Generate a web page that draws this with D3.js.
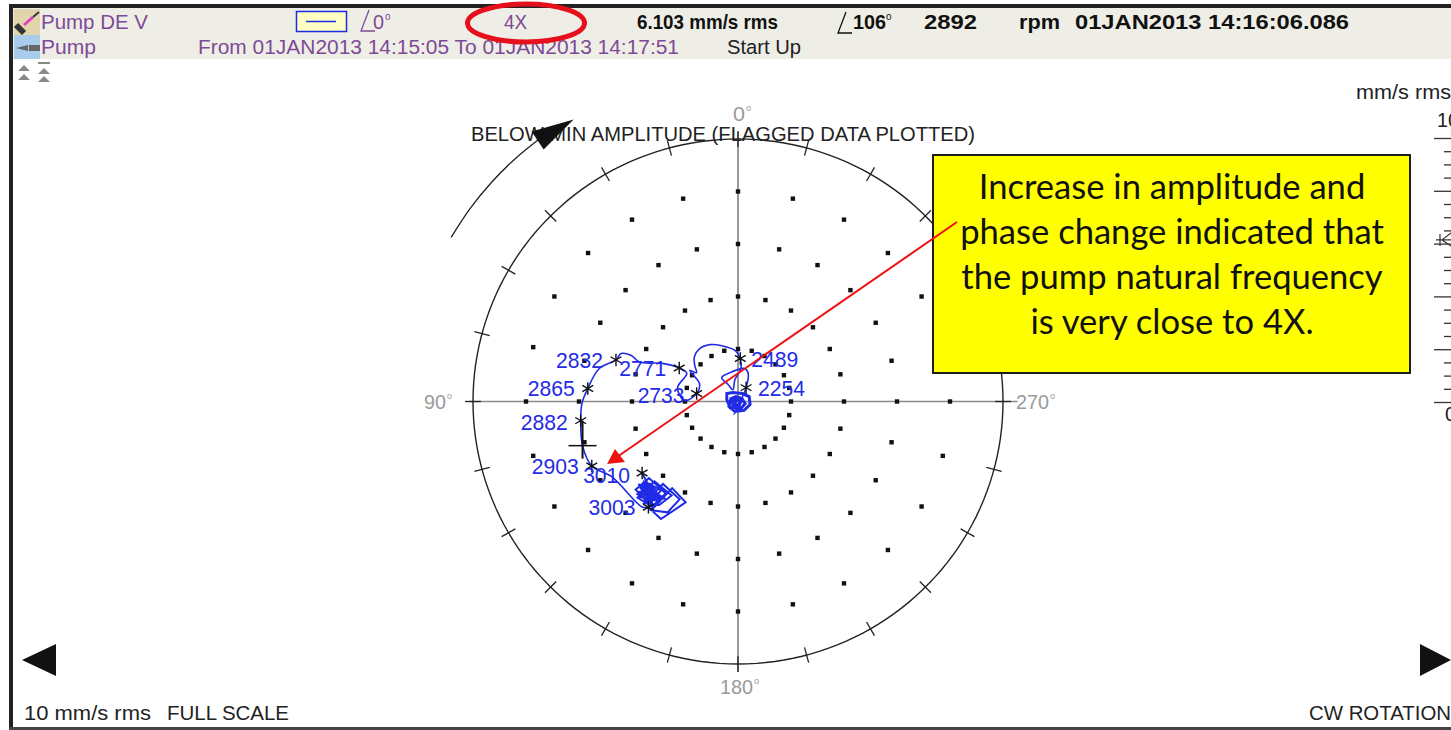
<!DOCTYPE html>
<html>
<head>
<meta charset="utf-8">
<script src="https://cdn.jsdelivr.net/npm/d3@7"></script>
<style>
    html, body { margin: 0; padding: 0; background: #fff; overflow: hidden; }
    svg { display: block; }
    text { font-family: "Liberation Sans", Arial, sans-serif; }
</style>
</head>
<body>
<svg id="chart" width="1451" height="730"></svg>
<script>
// 4X polar (amplitude mm/s rms, phase deg)
const ringAmps = [2, 4, 6, 8];
const gridAngles = d3.range(0, 360, 15);
const axisAngles = [0, 90, 180, 270];
const scaleMajor = [0, 2, 4, 6, 8, 10];
const scaleMinor = d3.range(0, 10.01, 0.5).filter(d => d % 2 !== 0);

// slow roll, small loops near the centre
const blobPhase = [180, 127, 80, 54, 29, 333, 294, 256, 214, 163, 119, 67, 22, 307, 254, 203, 146, 90, 34, 270, 194, 135, 60, 300, 220, 180, 150, 205, 170, 190];
const blobAmp = [0.15, 0.38, 0.43, 0.52, 0.39, 0.34, 0.46, 0.47, 0.41, 0.40, 0.39, 0.29, 0.20, 0.19, 0.28, 0.29, 0.27, 0.23, 0.14, 0.11, 0.16, 0.16, 0.10, 0.12, 0.09, 0.30, 0.22, 0.24, 0.36, 0.12];

// run up through the resonance
const sweepPhase = [190, 330, 340, 348, 20, 34, 30, 23, 8, 355, 357, 3, 16, 26, 36, 44, 50, 55, 57, 65, 79, 89, 77, 61, 60, 63, 68, 66.5, 67.5, 71, 76.6, 85, 90.7, 97, 106, 114, 121, 138, 140];
const sweepAmp = [0.12, 0.61, 1.13, 1.28, 1.13, 1.10, 0.75, 0.49, 0.84, 1.26, 1.64, 1.94, 2.21, 2.41, 2.48, 2.37, 2.13, 1.91, 2.17, 1.60, 1.59, 2.02, 2.34, 2.21, 2.56, 3.20, 4.01, 4.39, 4.77, 4.87, 5.39, 5.69, 5.89, 5.98, 6.103, 6.04, 5.56, 5.41, 5.26];

// running speed, wandering around 3000 rpm
const settlePhase = [140, 147, 152.8, 143, 141.7, 147.8, 149.4, 138, 137.6, 143, 145, 134, 134, 141, 142, 131, 131, 139, 139.5, 132, 134, 140, 143, 135, 134, 139.5, 135, 136.7, 137, 141, 134, 132, 137.6, 133, 138, 131, 136, 140, 133, 135, 130, 137, 142, 134, 131, 136, 139, 132, 135, 138, 133, 136, 127];
const settleAmp = [5.26, 5.34, 4.32, 4.13, 5.28, 4.99, 4.33, 4.23, 5.25, 4.94, 4.37, 4.38, 5.27, 5.16, 4.44, 4.45, 5.12, 5.15, 4.45, 4.63, 5.22, 4.91, 4.62, 4.70, 5.08, 4.75, 4.87, 4.55, 5.14, 4.70, 4.57, 4.82, 4.79, 4.95, 5.02, 4.68, 4.60, 5.05, 5.18, 4.80, 4.90, 4.98, 4.82, 4.52, 4.75, 5.10, 4.66, 4.86, 4.62, 4.94, 5.04, 4.72, 4.53];

// speed stamps along the orbit
const stampRpm = ["2254", "2489", "2733", "2771", "2832", "2865", "2882", "2903", "3003", "3010"];
const stampPhase = [330, 357, 79, 60, 71, 85, 97, 114, 140, 127];
const stampAmp = [0.61, 1.64, 1.59, 2.56, 4.87, 5.69, 5.98, 6.04, 5.26, 4.53];

const cursorAmp = 6.103;
const cursorPhase = 106;
const rotationArc = [60, 54, 48, 42, 37];
const rotationAmp = 12.5;

const note = ["Increase in amplitude and", "phase change indicated that", "the pump natural frequency", "is very close to 4X."];

const purple = "#7d4a98";
const blue = "#1f2be6";
const svg = d3.select("#chart");

// polar plot sits on two linear scales, the picture is not quite round
const scaleX = d3.scaleLinear().domain([-10, 10]).range([473, 1003]);
const scaleY = d3.scaleLinear().domain([-10, 10]).range([664, 139]);
const rad = d => d * Math.PI / 180;
// phase runs counter clockwise on screen, 0 at the top
const polar = (amp, phase) => [scaleX(-amp * Math.sin(rad(phase))), scaleY(amp * Math.cos(rad(phase)))];

function addText(parent, str, x, y, size, fill, width, extra) {
    let t = parent.append("text")
        .attr("x", x)
        .attr("y", y)
        .attr("font-size", size)
        .attr("fill", fill)
        .text(str);
    if (width) {
        t.attr("textLength", width).attr("lengthAdjust", "spacingAndGlyphs");
    }
    if (extra) {
        for (let key in extra) t.attr(key, extra[key]);
    }
    return t;
}

function drawFrame() {
    svg.append("rect").attr("x", 13).attr("y", 8).attr("width", 1438).attr("height", 51).attr("fill", "#efeee6");
    svg.append("rect").attr("x", 9).attr("y", 4).attr("width", 1442).attr("height", 4).attr("fill", "#222");
    svg.append("rect").attr("x", 9).attr("y", 4).attr("width", 4).attr("height", 726).attr("fill", "#222");
    svg.append("rect").attr("x", 9).attr("y", 727).attr("width", 1442).attr("height", 3).attr("fill", "#444");
}

function drawHeader() {
    // little tree icons
    svg.append("rect").attr("x", 14).attr("y", 9).attr("width", 26).attr("height", 26).attr("fill", "#e2d5ab");
    svg.append("rect").attr("x", 14).attr("y", 35).attr("width", 26).attr("height", 24).attr("fill", "#a9cbec");
    svg.append("path").attr("d", "M16 25 L24 33").attr("stroke", "#333").attr("stroke-width", 6);
    svg.append("path").attr("d", "M24 25 L33 17").attr("stroke", "#e040c0").attr("stroke-width", 3);
    svg.append("path").attr("d", "M33 17 L39 12").attr("stroke", "#333").attr("stroke-width", 2);
    svg.append("path").attr("d", "M16 48 L28 45 L28 51 Z M29 45 H40 V51 H29 Z").attr("fill", "#666");

    addText(svg, "Pump DE V", 41, 29, 21, purple, 107);
    addText(svg, "Pump", 41, 54, 21, purple, 55);
    addText(svg, "From 01JAN2013 14:15:05 To 01JAN2013 14:17:51", 198, 54, 20.5, purple, 481);
    addText(svg, "Start Up", 727, 54, 20.5, "#222", 74);
    addText(svg, "4X", 504, 29, 20, purple, 23);

    svg.append("rect").attr("x", 296.5).attr("y", 11.5).attr("width", 50).attr("height", 20)
        .attr("fill", "#ffffc4").attr("stroke", "#1f2be6").attr("stroke-width", 1.5);
    svg.append("line").attr("x1", 306).attr("x2", 336).attr("y1", 21.5).attr("y2", 21.5)
        .attr("stroke", "#1f2be6").attr("stroke-width", 1.5);

    drawAngleSign(361, 31, purple);
    addText(svg, "0", 373, 29, 20, purple, 11);
    addText(svg, "o", 385, 20, 10, purple);

    let bold = {"font-weight": "bold"};
    addText(svg, "6.103 mm/s rms", 637, 29, 20.5, "#111", 141, bold);
    drawAngleSign(838, 33, "#111");
    addText(svg, "106", 853, 29, 20.5, "#111", 33, bold);
    addText(svg, "o", 886, 20, 10, "#111");
    addText(svg, "2892", 924, 29, 20.5, "#111", 53, bold);
    addText(svg, "rpm", 1019, 29, 20.5, "#111", 41, bold);
    addText(svg, "01JAN2013 14:16:06.086", 1075, 29, 20.5, "#111", 274, bold);

    svg.append("ellipse").attr("cx", 526).attr("cy", 23).attr("rx", 58.5).attr("ry", 19)
        .attr("fill", "none").attr("stroke", "#e60f1c").attr("stroke-width", 5);

    // collapse arrows
    let gray = "#8a8a85";
    let tri = (x, y) => `M${x} ${y + 6} L${x + 6} ${y} L${x + 12} ${y + 6} Z`;
    svg.append("path").attr("d", tri(18, 65) + tri(18, 74)).attr("fill", gray);
    svg.append("path").attr("d", tri(38, 68) + tri(38, 76)).attr("fill", gray);
    svg.append("rect").attr("x", 38).attr("y", 62).attr("width", 12).attr("height", 2).attr("fill", gray);
}

function drawAngleSign(x, y, color) {
    svg.append("path")
        .attr("d", `M${x + 8} ${y - 21} L${x} ${y} H${x + 14}`)
        .attr("fill", "none").attr("stroke", color).attr("stroke-width", 1.3);
}

function drawGrid() {
    let g = svg.append("g");

    g.append("line").attr("x1", scaleX(-10.15)).attr("x2", scaleX(10.55)).attr("y1", scaleY(0)).attr("y2", scaleY(0))
        .attr("stroke", "#8c8c8c").attr("stroke-width", 1.5);
    g.append("line").attr("x1", scaleX(0)).attr("x2", scaleX(0)).attr("y1", scaleY(10.3)).attr("y2", scaleY(-10.3))
        .attr("stroke", "#777").attr("stroke-width", 1.5);

    // dotted rings
    let dots = ringAmps.flatMap(a => gridAngles.map(p => polar(a, p)));
    g.selectAll("rect.dot")
        .data(dots)
        .join("rect")
        .attr("class", "dot")
        .attr("x", d => d[0] - 2.2)
        .attr("y", d => d[1] - 2.2)
        .attr("width", 4.4)
        .attr("height", 4.4)
        .attr("fill", "#111");

    let outer = d3.line().curve(d3.curveLinearClosed);
    g.append("path")
        .attr("d", outer(d3.range(0, 360, 2).map(p => polar(10, p))))
        .attr("fill", "none").attr("stroke", "#222").attr("stroke-width", 1.4);

    g.selectAll("line.tick")
        .data(gridAngles)
        .join("line")
        .attr("class", "tick")
        .attr("x1", d => polar(9.7, d)[0])
        .attr("y1", d => polar(9.7, d)[1])
        .attr("x2", d => polar(10.3, d)[0])
        .attr("y2", d => polar(10.3, d)[1])
        .attr("stroke", "#222").attr("stroke-width", 1.3);

    // angle labels, placed by hand around the circle
    let labelSpots = {0: [733, 121, 12], 90: [424, 409, 22], 180: [720, 694, 33], 270: [1016, 409, 33]};
    axisAngles.forEach(a => {
        let s = labelSpots[a];
        addText(g, String(a), s[0], s[1], 21, "#9a9a9a", s[2]);
        addText(g, "o", s[0] + s[2] + 1, s[1] - 10, 9, "#9a9a9a");
    });

    addText(g, "BELOW MIN AMPLITUDE (FLAGGED DATA PLOTTED)", 471, 141, 21, "#222", 504);
}

function drawRotation() {
    let line = d3.line().curve(d3.curveCatmullRom);
    svg.append("path")
        .attr("d", line(rotationArc.map(p => polar(rotationAmp, p))))
        .attr("fill", "none").attr("stroke", "#222").attr("stroke-width", 1.3);
    let tip = polar(rotationAmp, 37);
    // head is a fixed shape set at the end of the arc
    svg.append("path")
        .attr("transform", `translate(${tip[0]},${tip[1]})`)
        .attr("d", "M-7 -8 L35 -20 L5 10 Z")
        .attr("fill", "#111");
}

function drawOrbit() {
    let line = d3.line();
    let smooth = d3.line().curve(d3.curveCatmullRom);
    let points = (ph, am) => ph.map((p, i) => polar(am[i], p));
    let g = svg.append("g").attr("fill", "none").attr("stroke", blue);

    g.append("path").attr("d", line(points(blobPhase, blobAmp))).attr("stroke-width", 3);
    g.append("path").attr("d", smooth(points(sweepPhase, sweepAmp))).attr("stroke-width", 1.6);
    g.append("path").attr("d", line(points(settlePhase, settleAmp))).attr("stroke-width", 2);

    // cursor
    let c = polar(cursorAmp, cursorPhase);
    let cur = svg.append("g").attr("transform", `translate(${c[0]},${c[1]})`)
        .attr("stroke", "#111").attr("stroke-width", 1.5);
    cur.append("line").attr("x1", -14).attr("x2", 14);
    cur.append("line").attr("y1", -25).attr("y2", 13).attr("stroke-width", 2);

    let star = d3.symbol().type(d3.symbolAsterisk).size(110);
    let s = svg.append("g");
    s.selectAll("path")
        .data(stampRpm)
        .join("path")
        .attr("d", star)
        .attr("transform", (d, i) => {
            let p = polar(stampAmp[i], stampPhase[i]);
            return `translate(${p[0]},${p[1]})`;
        })
        .attr("fill", "none").attr("stroke", "#111").attr("stroke-width", 1.4);

    // text position relative to its star
    let spot = {
        "2254": [12, 8], "2489": [11, 8], "2733": [-59, 9], "2771": [-60, 8], "2832": [-60, 8],
        "2865": [-60, 8], "2882": [-60, 9], "2903": [-60, 8], "3003": [-60, 8], "3010": [-59, 10]
    };
    stampRpm.forEach((r, i) => {
        let p = polar(stampAmp[i], stampPhase[i]);
        addText(svg, r, p[0] + spot[r][0], p[1] + spot[r][1], 22, blue, 47);
    });
}

function drawScale() {
    let y = d3.scaleLinear().domain([0, 10]).range([402, 138]);
    let g = svg.append("g").attr("transform", "translate(1451,0)");
    g.call(d3.axisLeft(y).tickValues(scaleMajor).tickSize(17).tickFormat(""));
    let g2 = svg.append("g").attr("transform", "translate(1451,0)");
    g2.call(d3.axisLeft(y).tickValues(scaleMinor).tickSize(7).tickFormat(""));
    for (let a of [g, g2]) {
        a.select(".domain").remove();
        a.selectAll("line").attr("stroke", "#333").attr("stroke-width", 1.3);
    }
    addText(svg, "mm/s rms", 1356, 99, 20.5, "#222", 95);
    addText(svg, "10", 1437, 127, 21, "#222", 22);
    addText(svg, "0", 1445, 421, 21, "#222", 11);

    // current value marker on the bar
    let m = y(cursorAmp);
    svg.append("path")
        .attr("d", `M1436 ${m - 1} H1451 M1440 ${m - 7} V${m + 5} M1451 ${m - 8} L1442 ${m - 1} L1451 ${m + 5}`)
        .attr("fill", "none").attr("stroke", "#333").attr("stroke-width", 1.2);
}

function drawBottom() {
    addText(svg, "10 mm/s rms", 24, 720, 20.5, "#222", 127);
    addText(svg, "FULL SCALE", 167, 720, 20.5, "#222", 122);
    addText(svg, "CW ROTATION", 1309, 720, 20.5, "#222", 142);
    svg.append("path").attr("d", "M22 660 L56 644 V676 Z").attr("fill", "#111");
    svg.append("path").attr("d", "M1451 660 L1420 644 V676 Z").attr("fill", "#111");
}

function drawNote() {
    svg.append("rect").attr("x", 933).attr("y", 155).attr("width", 477).attr("height", 218)
        .attr("fill", "#ffff00").attr("stroke", "#1c1c1c").attr("stroke-width", 2);
    svg.selectAll("text.note")
        .data(note)
        .join("text")
        .attr("class", "note")
        .attr("x", 1172)
        .attr("y", (d, i) => 199 + i * 45)
        .attr("text-anchor", "middle")
        .attr("font-size", 34.6)
        .attr("fill", "#111")
        .style("font-family", "Lato, 'Open Sans', sans-serif")
        .text(d => d);

    svg.append("line").attr("x1", 957).attr("y1", 222).attr("x2", 617).attr("y2", 457)
        .attr("stroke", "#ee1111").attr("stroke-width", 2);
    svg.append("path").attr("d", "M607 464 L615 449 L625 462 Z").attr("fill", "#ee1111");
}

drawFrame();
drawHeader();
drawGrid();
drawRotation();
drawOrbit();
drawScale();
drawBottom();
drawNote();
</script>
</body>
</html>
